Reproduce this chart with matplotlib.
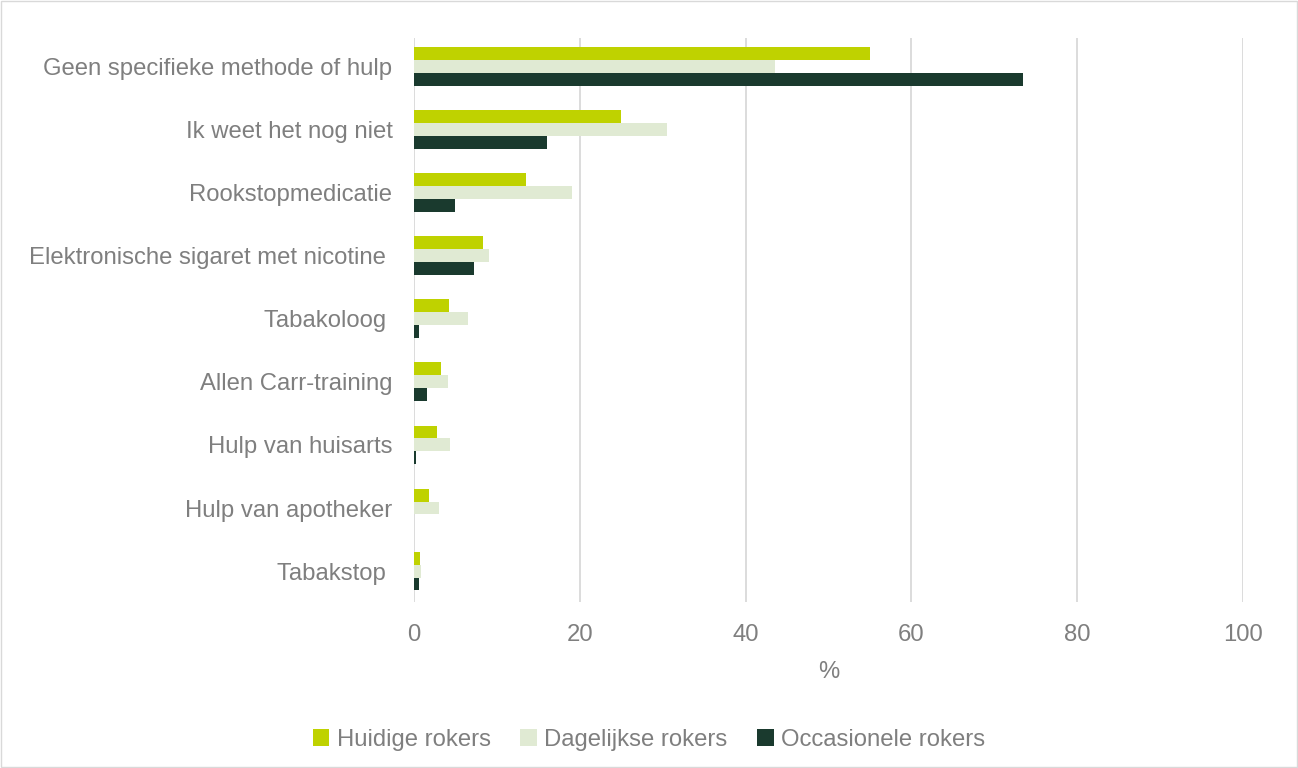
import matplotlib
matplotlib.use("Agg")
import matplotlib.pyplot as plt
import numpy as np

categories = ["Geen specifieke methode of hulp", "Ik weet het nog niet", "Rookstopmedicatie",
              "Elektronische sigaret met nicotine ", "Tabakoloog ", "Allen Carr-training",
              "Hulp van huisarts", "Hulp van apotheker", "Tabakstop "]
series_names = ["Huidige rokers", "Dagelijkse rokers", "Occasionele rokers"]
huidige = [55.0, 25.0, 13.5, 8.3, 4.2, 3.2, 2.8, 1.8, 0.7]
dagelijkse = [43.5, 30.5, 19.0, 9.0, 6.5, 4.1, 4.4, 3.0, 0.8]
occasionele = [73.5, 16.0, 4.9, 7.2, 0.6, 1.6, 0.3, 0.0, 0.6]
xticks = [0, 20, 40, 60, 80, 100]

colors = ["#BFD200", "#E0EAD3", "#1A3A2E"]
text_color = "#7F7F7F"

plt.rcParams['font.family'] = ['Liberation Sans', 'DejaVu Sans']

fig = plt.figure(figsize=(12.98, 7.68), dpi=100)
ax = fig.add_axes([414/1298, 1-602/768, (1243-414)/1298, (602-38)/768])

y = np.arange(len(categories))
h = 0.205
for i, (vals, name, c) in enumerate(zip([huidige, dagelijkse, occasionele], series_names, colors)):
    ax.barh(y + (i - 1) * h, vals, height=h, color=c, label=name, zorder=3)

fs = 17.2
ax.set_ylim(8.49, -0.45)
ax.set_xlim(0, 100)
ax.set_xticks(xticks)
ax.set_yticks(y)
ax.set_yticklabels(categories)
ax.grid(axis='x', color='#D9D9D9', linewidth=1.3, zorder=0)
for s in ax.spines.values():
    s.set_visible(False)
ax.tick_params(axis='both', length=0, colors=text_color, labelsize=fs)
ax.tick_params(axis='y', pad=15.5)
ax.tick_params(axis='x', pad=15.5)
ax.set_xlabel("%", color=text_color, fontsize=fs, labelpad=11)

leg = fig.legend(loc='center', bbox_to_anchor=(0.5, 1-740/768), ncol=3, frameon=False,
                 fontsize=fs, handlelength=0.7, handleheight=0.7, handletextpad=0.3,
                 columnspacing=1.25)
for t in leg.get_texts():
    t.set_color(text_color)

fig.patches.append(plt.Rectangle((0.001, 0.001), 0.998, 0.998, transform=fig.transFigure,
                                 fill=False, edgecolor='#D9D9D9', linewidth=1))

fig.savefig("out.png", dpi=100)
